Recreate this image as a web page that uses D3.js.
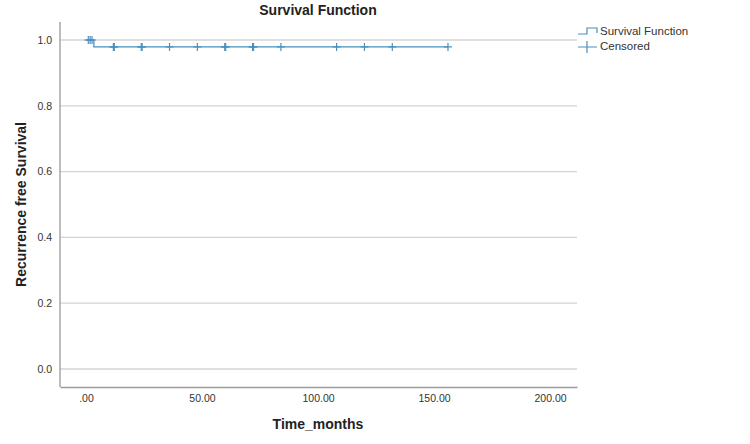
<!DOCTYPE html>
<html>
<head>
<meta charset="utf-8">
<script src="https://cdn.jsdelivr.net/npm/d3@7"></script>
<style>
  body { margin: 0; background: #fff; font-family: Arial, "Liberation Sans", sans-serif; }
</style>
</head>
<body>
<div id="chart"></div>
<script>
// step function: time (months) and survival after each event
const stepTimes = [0, 3.4, 156];
const stepSurv = [1.0, 0.979, 0.979];

// censored observations
const censoredBefore = [1.0, 1.8, 2.6];      // before the drop, survival 1.0
const censoredAfter = [11.8, 12.2, 23.8, 24.2, 36, 48, 59.8, 60.2, 71.8, 72.2, 84, 108, 120, 132, 156];

const xTicks = [0, 50, 100, 150, 200];
const yTicks = [0, 0.2, 0.4, 0.6, 0.8, 1.0];

const width = 750, height = 444;
const margin = {top: 22, right: 173, bottom: 57, left: 60};
const lineColor = "#4a8fbf";

const svg = d3.select("#chart").append("svg")
    .attr("width", width)
    .attr("height", height);

const x = d3.scaleLinear()
    .domain([-11.2, 211.6])
    .range([margin.left, width - margin.right]);

const y = d3.scaleLinear()
    .domain([0, 1])
    .range([369, 40]);

// gridlines
svg.append("g")
  .selectAll("line")
  .data(yTicks)
  .join("line")
    .attr("x1", margin.left)
    .attr("x2", width - margin.right)
    .attr("y1", d => y(d))
    .attr("y2", d => y(d))
    .attr("stroke", "#d4d4d4")
    .attr("stroke-width", 1.3);

// axes
const xAxis = svg.append("g")
    .attr("transform", `translate(0, ${height - margin.bottom})`)
    .call(d3.axisBottom(x).tickValues(xTicks).tickSize(0).tickPadding(8)
      .tickFormat(d => d === 0 ? ".00" : d3.format(".2f")(d)));
xAxis.select(".domain").attr("stroke", "#9a9a9a").attr("stroke-width", 1.3);

const yAxis = svg.append("g")
    .attr("transform", `translate(${margin.left}, 0)`)
    .call(d3.axisLeft(y).tickValues(yTicks).tickSize(0).tickPadding(8).tickFormat(d3.format(".1f")));
yAxis.select(".domain")
    .attr("d", `M0,${margin.top}V${height - margin.bottom}`)
    .attr("stroke", "#9a9a9a").attr("stroke-width", 1.3);

svg.selectAll(".tick text")
    .attr("font-family", "Arial, 'Liberation Sans', sans-serif")
    .attr("font-size", 10.5)
    .attr("fill", "#333");

// survival step line
const line = d3.line()
    .x((d, i) => x(stepTimes[i]))
    .y(d => y(d))
    .curve(d3.curveStepAfter);

svg.append("path")
    .datum(stepSurv)
    .attr("d", line)
    .attr("fill", "none")
    .attr("stroke", lineColor)
    .attr("stroke-width", 1.3);

// censored marks
const censored = censoredBefore.map(t => ({t, s: 1.0}))
    .concat(censoredAfter.map(t => ({t, s: stepSurv[1]})));

svg.append("g")
  .selectAll("path")
  .data(censored)
  .join("path")
    .attr("d", d => `M${x(d.t)},${y(d.s) - 4}V${y(d.s) + 4}M${x(d.t) - 4},${y(d.s)}H${x(d.t) + 4}`)
    .attr("stroke", lineColor)
    .attr("stroke-width", 1.2)
    .attr("fill", "none");

// title
svg.append("text")
    .attr("x", 318)
    .attr("y", 15)
    .attr("text-anchor", "middle")
    .attr("font-size", 14)
    .attr("font-weight", "bold")
    .attr("fill", "#222")
    .text("Survival Function");

// axis titles
svg.append("text")
    .attr("x", 318)
    .attr("y", 429)
    .attr("text-anchor", "middle")
    .attr("font-size", 14)
    .attr("font-weight", "bold")
    .attr("fill", "#222")
    .text("Time_months");

svg.append("text")
    .attr("transform", `translate(26, ${(y(0) + y(1)) / 2}) rotate(-90)`)
    .attr("text-anchor", "middle")
    .attr("font-size", 14)
    .attr("font-weight", "bold")
    .attr("fill", "#222")
    .text("Recurrence free Survival");

// legend
const legend = svg.append("g").attr("transform", "translate(578, 0)");
legend.append("path")
    .attr("d", "M0,34H9V28H19V33")
    .attr("fill", "none")
    .attr("stroke", lineColor)
    .attr("stroke-width", 1.2);
legend.append("text")
    .attr("x", 22).attr("y", 35)
    .attr("font-size", 11.5).attr("fill", "#333")
    .text("Survival Function");
legend.append("path")
    .attr("d", "M0,47H19M9,41V53")
    .attr("fill", "none")
    .attr("stroke", lineColor)
    .attr("stroke-width", 1.2);
legend.append("text")
    .attr("x", 22).attr("y", 50)
    .attr("font-size", 11.5).attr("fill", "#333")
    .text("Censored");
</script>
</body>
</html>
